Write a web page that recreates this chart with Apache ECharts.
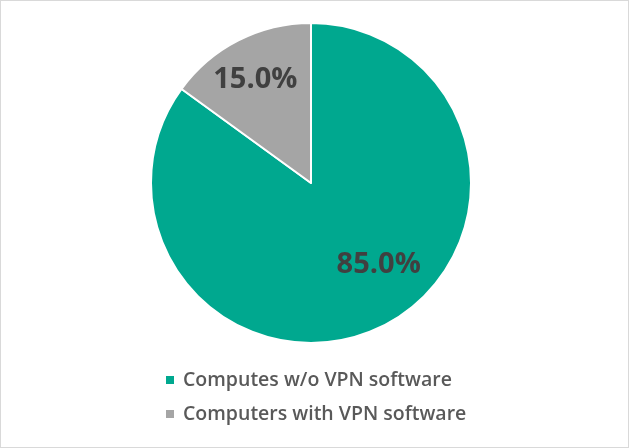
<!DOCTYPE html>
<html><head><meta charset="utf-8">
<script src="https://cdn.jsdelivr.net/npm/echarts@6/dist/echarts.min.js"></script>
<style>
html,body{margin:0;padding:0;background:#fff;}
#c{width:627px;height:446px;border:1px solid #d9d9d9;}
</style></head>
<body><div id="c"></div>
<script>
const categories = ['Computes w/o VPN software', 'Computers with VPN software'];
const values = [85.0, 15.0];
const colors = ['#00A88F', '#A5A5A5'];
const labelOffsets = [[30, 8], [-18, -29]];

const chart = echarts.init(document.getElementById('c'), null, {renderer: 'canvas'});
chart.setOption({
  animation: false,
  legend: {
    orient: 'vertical',
    left: 158, top: 364,
    itemWidth: 10, itemHeight: 10, itemGap: 14,
    icon: 'rect',
    textStyle: {fontFamily: 'Open Sans', fontSize: 19.5, fontWeight: 600, color: '#595959', padding: [0, 0, 0, 3]},
    data: categories
  },
  series: [{
    type: 'pie',
    center: [310, 182],
    radius: [0, 160],
    startAngle: 90,
    clockwise: true,
    itemStyle: {borderColor: '#fff', borderWidth: 2},
    label: {
      show: true, position: 'inside',
      formatter: p => p.value.toFixed(1) + '%',
      fontFamily: 'Open Sans', fontSize: 29, fontWeight: 'bold', color: '#404040'
    },
    labelLine: {show: false},
    data: categories.map((n, i) => ({
      name: n, value: values[i],
      itemStyle: {color: colors[i]},
      label: {offset: labelOffsets[i]}
    }))
  }]
});
</script></body></html>
